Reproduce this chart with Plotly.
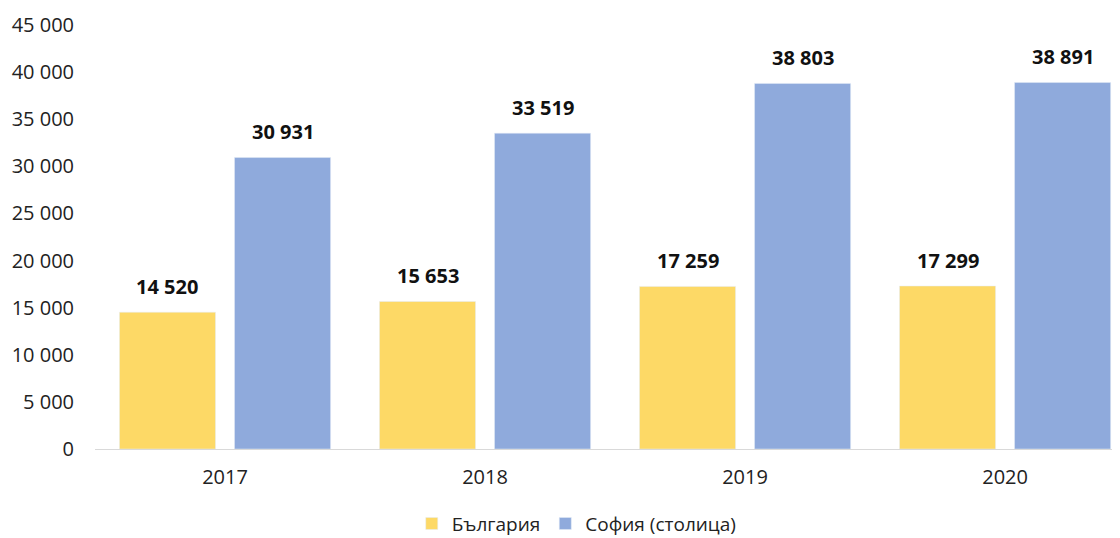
import plotly.graph_objects as go

years = ["2017", "2018", "2019", "2020"]
bulgaria = [14520, 15653, 17259, 17299]
sofia = [30931, 33519, 38803, 38891]
y_ticks = [0, 5000, 10000, 15000, 20000, 25000, 30000, 35000, 40000, 45000]

YELLOW = "#FDD966"
BLUE = "#8FAADC"
FONT = "Open Sans"


def fmt(v):
    return f"{v:,}".replace(",", " ")


fig = go.Figure()
fig.add_trace(go.Bar(x=years, y=bulgaria, name="България", marker_color=YELLOW))
fig.add_trace(go.Bar(x=years, y=sofia, name="София (столица)", marker_color=BLUE))

bargap = 0.115
# data labels above each bar, shifted by the grouped slot offset
offset = (1 - bargap) / 4
for i, (b, s) in enumerate(zip(bulgaria, sofia)):
    for xpos, val in ((i - offset, b), (i + offset, s)):
        fig.add_annotation(x=xpos, y=val, text=f"<b>{fmt(val)}</b>", showarrow=False,
                           yanchor="middle", yshift=26,
                           font=dict(family=FONT, size=20, color="#111111"))

# page body adds an 8px margin, so the figure is 8px smaller each way
fig.update_layout(
    barmode="group", bargap=bargap, bargroupgap=0.165,
    width=1112, height=530,
    margin=dict(l=87, r=0, t=17, b=89, autoexpand=False),
    plot_bgcolor="white", paper_bgcolor="white",
    separators=". ",
    font=dict(family=FONT, size=20, color="#222222"),
    showlegend=True,
    legend=dict(orientation="h", x=0.47, xanchor="center", y=-0.176, yanchor="middle",
                font=dict(family=FONT, size=19, color="#222222")),
)
fig.update_xaxes(range=[-0.5, 3.442], showgrid=False, showline=True, linecolor="#d9d9d9",
                 linewidth=1, ticks="", ticklabelstandoff=10, automargin=False,
                 tickfont=dict(size=20))
fig.update_yaxes(range=[0, 45000], tickvals=y_ticks, ticktext=[fmt(v) for v in y_ticks],
                 showgrid=False, zeroline=False, showline=False, ticks="",
                 ticklabelstandoff=20, automargin=False, tickfont=dict(size=20))

fig.write_html("out.html")
